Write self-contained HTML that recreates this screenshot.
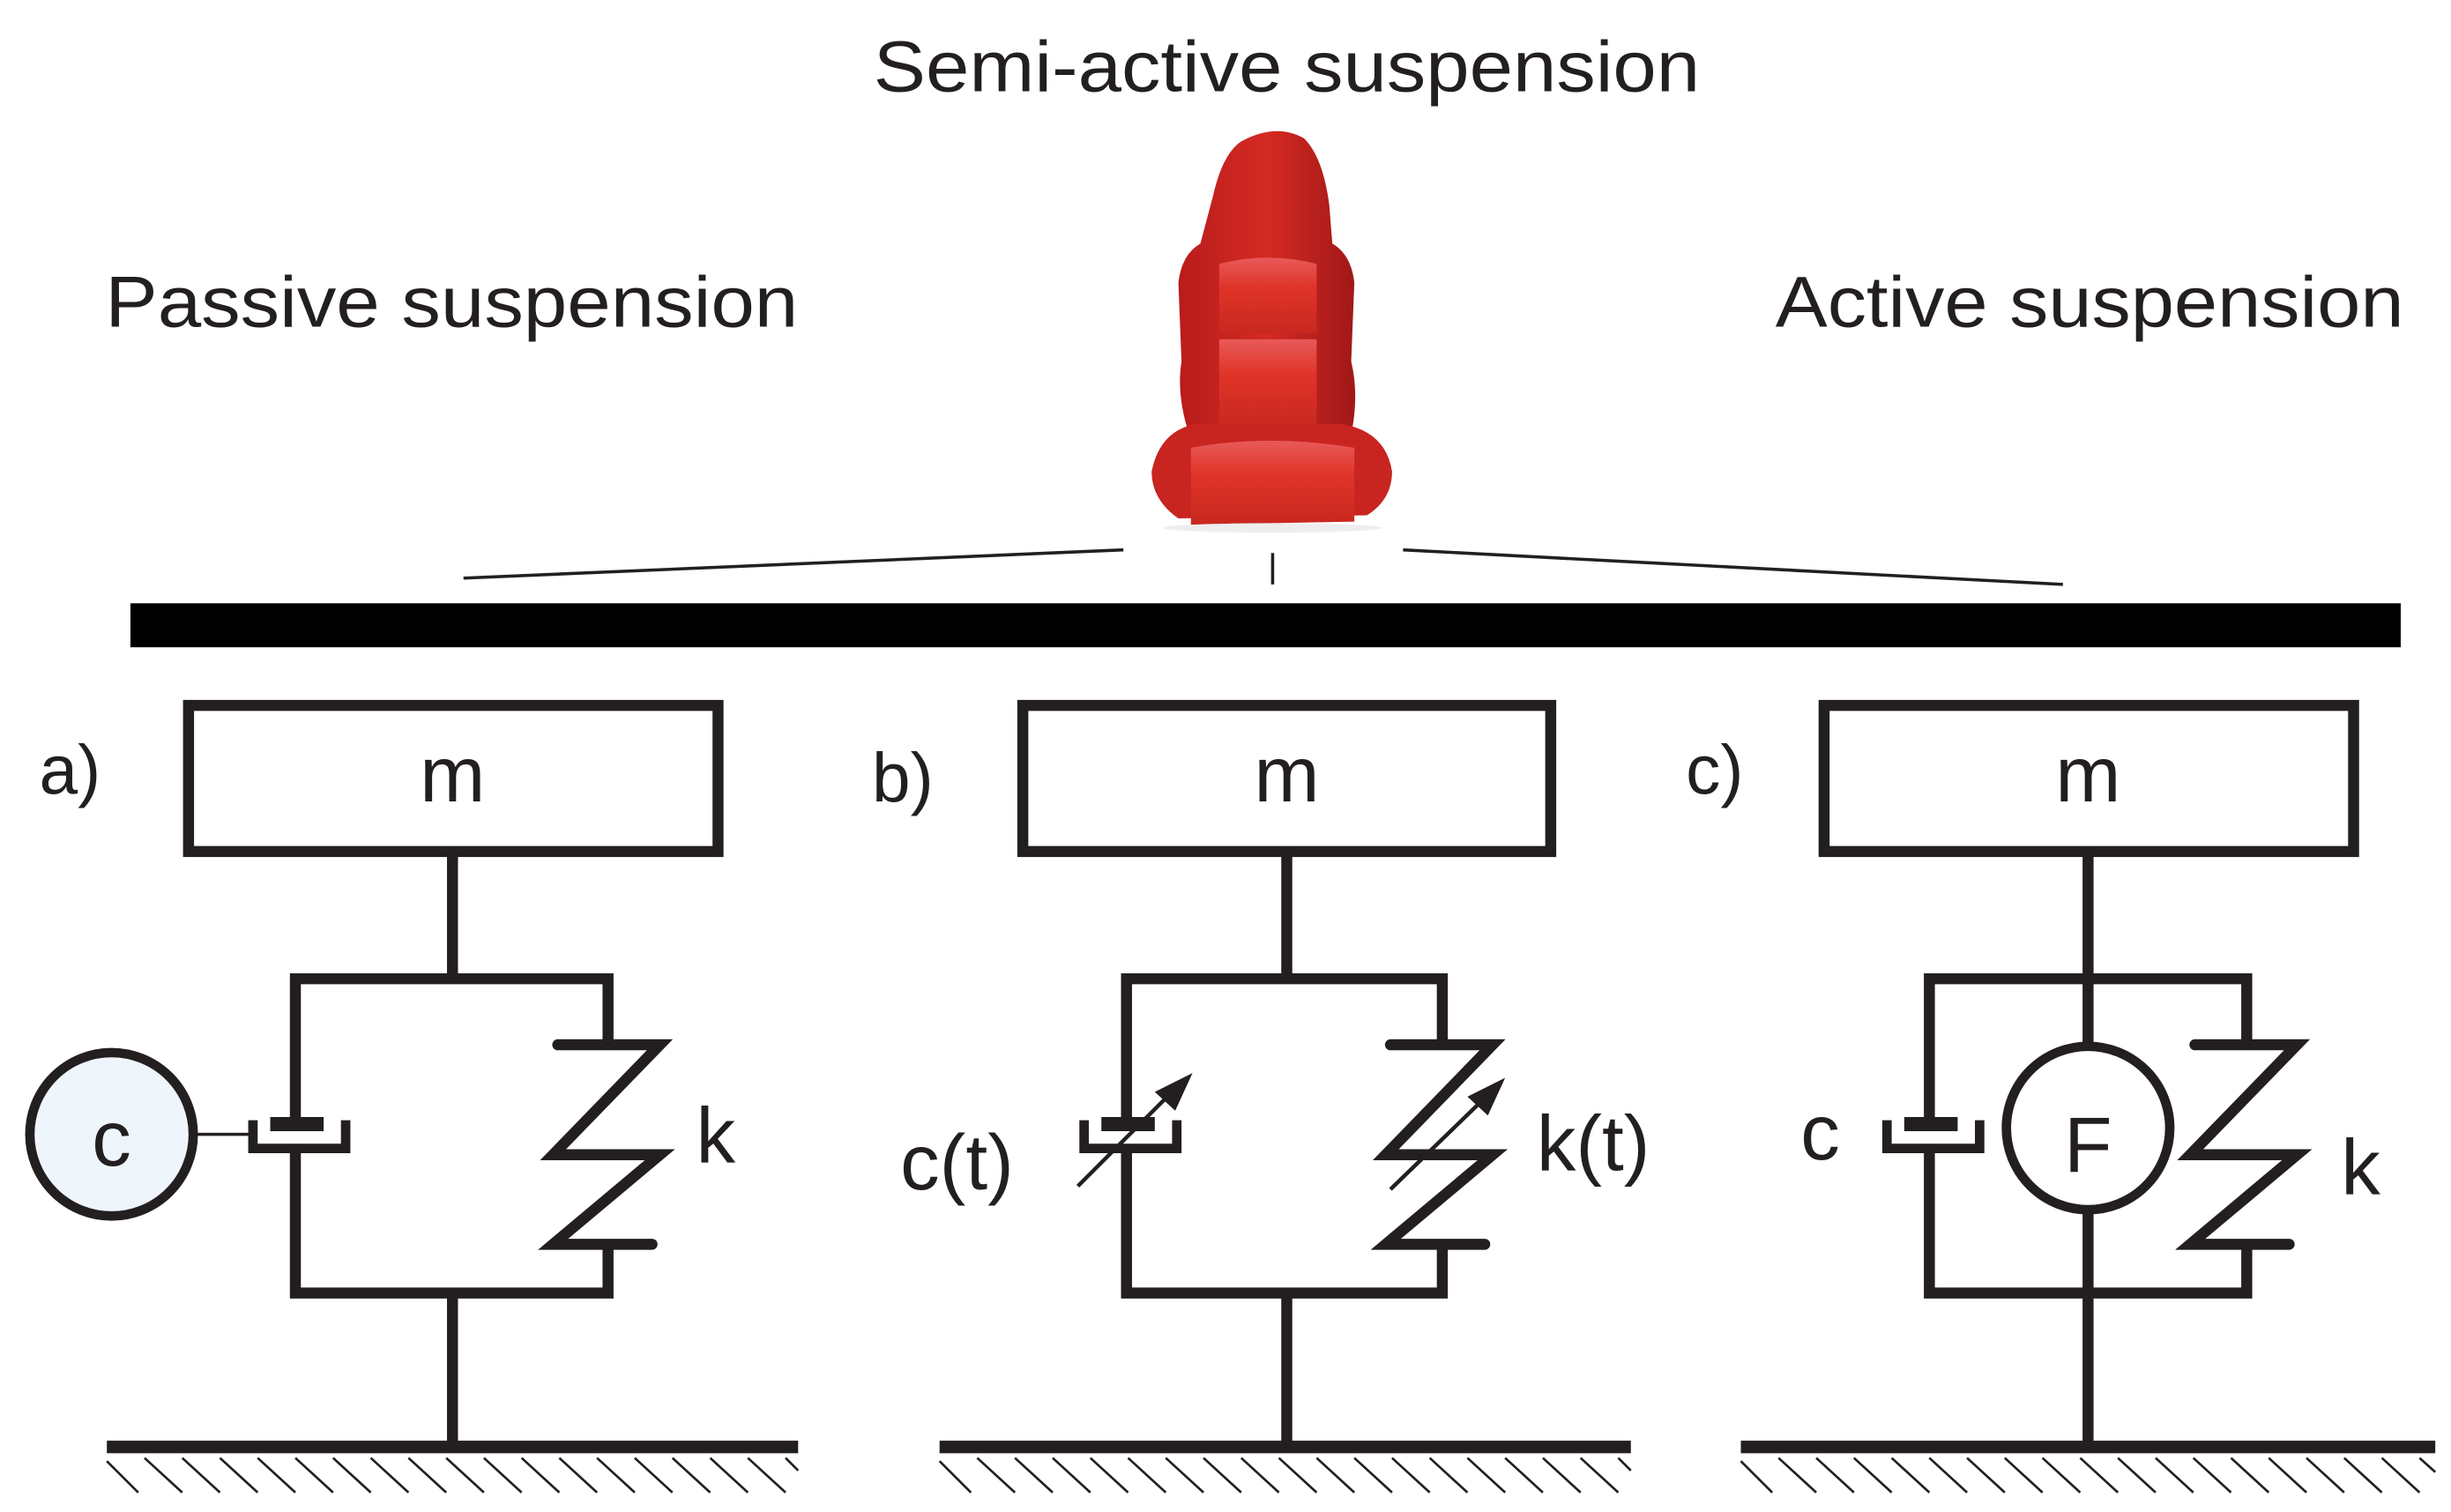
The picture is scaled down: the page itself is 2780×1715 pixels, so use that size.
<!DOCTYPE html>
<html><head><meta charset="utf-8"><style>
html,body{margin:0;padding:0;background:#fff;}
svg{display:block;}
text{font-family:"Liberation Sans",sans-serif;fill:#231f20;}
</style></head><body>
<svg width="2780" height="1715" viewBox="0 0 1560 962.4" preserveAspectRatio="none" xmlns="http://www.w3.org/2000/svg">
<defs>
<linearGradient id="sb" x1="0" x2="1"><stop offset="0" stop-color="#b81c1c"/><stop offset="0.5" stop-color="#d42a22"/><stop offset="1" stop-color="#a01818"/></linearGradient>
<linearGradient id="pd" x1="0" y1="0" x2="0" y2="1"><stop offset="0" stop-color="#e85a5a"/><stop offset="0.4" stop-color="#e03428"/><stop offset="1" stop-color="#c82820"/></linearGradient>
</defs>
<text x="556" y="58" font-size="46" textLength="526" lengthAdjust="spacingAndGlyphs">Semi-active suspension</text>
<text x="67" y="208" font-size="46" textLength="441" lengthAdjust="spacingAndGlyphs">Passive suspension</text>
<text x="1130" y="208" font-size="46" textLength="400" lengthAdjust="spacingAndGlyphs">Active suspension</text>

<!-- seat -->
<path d="M790,90 Q812,78 830,88 Q842,100 846,130 L848,155 Q860,162 862,180 L860,230 Q866,255 858,285 L800,292 L760,285 Q748,255 752,230 L750,180 Q752,162 764,155 L772,125 Q778,98 790,90Z" fill="url(#sb)"/>
<path d="M776,168 Q807,160 838,168 L838,212 L776,212Z" fill="url(#pd)"/>
<path d="M776,216 L838,216 L838,272 L776,272Z" fill="url(#pd)"/>
<path d="M733,300 Q738,275 760,270 L855,270 Q882,275 886,300 Q886,318 870,328 L750,330 Q733,318 733,300Z" fill="#c82420"/>
<path d="M758,285 Q808,276 862,285 L862,332 L758,334Z" fill="url(#pd)"/>
<ellipse cx="810" cy="336" rx="70" ry="3" fill="#eee"/>

<g stroke="#231f20" stroke-width="2" fill="none">
<line x1="295" y1="368" x2="715" y2="350"/>
<line x1="810" y1="352" x2="810" y2="372"/>
<line x1="893" y1="350" x2="1313" y2="372"/>
</g>
<rect x="83" y="384" width="1445" height="28" fill="#000"/>

<g stroke="#231f20" stroke-width="7" fill="none">
<rect x="120" y="449" width="337" height="93"/>
<rect x="651" y="449" width="336" height="93"/>
<rect x="1161" y="449" width="337" height="93"/>
<line x1="288" y1="542" x2="288" y2="623"/>
<polyline points="188,713 188,623 387,623 387,665"/>
<polyline points="188,733 188,823 387,823 387,792"/>
<line x1="288" y1="823" x2="288" y2="921"/>
<line x1="819" y1="542" x2="819" y2="623"/>
<polyline points="717,713 717,623 918,623 918,665"/>
<polyline points="717,733 717,823 918,823 918,792"/>
<line x1="819" y1="823" x2="819" y2="921"/>
<line x1="1329" y1="542" x2="1329" y2="921"/>
<polyline points="1228,713 1228,623 1430,623 1430,665"/>
<polyline points="1228,733 1228,823 1430,823 1430,792"/>
</g>
<g stroke="#231f20" stroke-width="7" fill="none" stroke-linecap="round" stroke-linejoin="miter">
<polyline points="355,665 420,665 352,735 420,735 352,792 415,792"/>
<polyline points="885,665 950,665 882,735 950,735 882,792 945,792"/>
<polyline points="1397,665 1462,665 1394,735 1462,735 1394,792 1457,792"/>
</g>
<g stroke="#231f20" stroke-width="6" fill="none">
<polyline points="161,713 161,731 220,731 220,713"/>
<polyline points="690,713 690,731 749,731 749,713"/>
<polyline points="1201,713 1201,731 1260,731 1260,713"/>
</g>
<g fill="#231f20">
<rect x="172" y="711" width="34" height="9"/>
<rect x="701" y="711" width="34" height="9"/>
<rect x="1212" y="711" width="34" height="9"/>
</g>
<circle cx="71" cy="722" r="52" fill="#eef6fb" stroke="#231f20" stroke-width="6"/>
<line x1="123" y1="722" x2="161" y2="722" stroke="#231f20" stroke-width="2"/>
<circle cx="1329" cy="718" r="52" fill="#fff" stroke="#231f20" stroke-width="6"/>
<g stroke="#231f20" stroke-width="2.5">
<line x1="686" y1="755" x2="748" y2="693"/>
<line x1="885" y1="757" x2="948" y2="696"/>
</g>
<polygon points="759,683 735,695 748,707" fill="#231f20"/>
<polygon points="958,686 934,698 947,710" fill="#231f20"/>

<g fill="#231f20">
<rect x="68" y="917" width="440" height="8"/>
<rect x="598" y="917" width="440" height="8"/>
<rect x="1108" y="917" width="442" height="8"/>
</g>
<g stroke="#231f20" stroke-width="1.5">
<path d="M68,930 l20,20 M92,928 l24,22 M116,928 l24,22 M140,928 l24,22 M164,928 l24,22 M188,928 l24,22 M212,928 l24,22 M236,928 l24,22 M260,928 l24,22 M284,928 l24,22 M308,928 l24,22 M332,928 l24,22 M356,928 l24,22 M380,928 l24,22 M404,928 l24,22 M428,928 l24,22 M452,928 l24,22 M476,928 l24,22 M500,928 l8,8"/>
<path d="M598,930 l20,20 M622,928 l24,22 M646,928 l24,22 M670,928 l24,22 M694,928 l24,22 M718,928 l24,22 M742,928 l24,22 M766,928 l24,22 M790,928 l24,22 M814,928 l24,22 M838,928 l24,22 M862,928 l24,22 M886,928 l24,22 M910,928 l24,22 M934,928 l24,22 M958,928 l24,22 M982,928 l24,22 M1006,928 l24,22 M1030,928 l8,8"/>
<path d="M1108,930 l20,20 M1132,928 l24,22 M1156,928 l24,22 M1180,928 l24,22 M1204,928 l24,22 M1228,928 l24,22 M1252,928 l24,22 M1276,928 l24,22 M1300,928 l24,22 M1324,928 l24,22 M1348,928 l24,22 M1372,928 l24,22 M1396,928 l24,22 M1420,928 l24,22 M1444,928 l24,22 M1468,928 l24,22 M1492,928 l24,22 M1516,928 l24,22 M1540,928 l10,9"/>
</g>

<text x="288" y="510" font-size="50" text-anchor="middle">m</text>
<text x="819" y="510" font-size="50" text-anchor="middle">m</text>
<text x="1329" y="510" font-size="50" text-anchor="middle">m</text>
<text x="25" y="505" font-size="44">a)</text>
<text x="555" y="510" font-size="44">b)</text>
<text x="1073" y="505" font-size="44">c)</text>
<text x="71" y="742" font-size="50" text-anchor="middle">c</text>
<text x="443" y="740" font-size="50">k</text>
<text x="573" y="757" font-size="50">c(t)</text>
<text x="978" y="745" font-size="50">k(t)</text>
<text x="1146" y="738" font-size="50">c</text>
<text x="1329" y="746" font-size="50" text-anchor="middle">F</text>
<text x="1490" y="760" font-size="50">k</text>
</svg>
</body></html>
